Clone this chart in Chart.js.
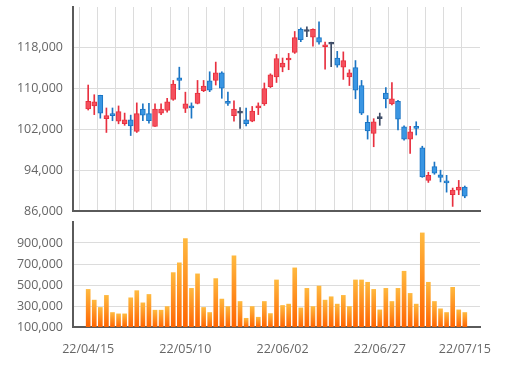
<!DOCTYPE html>
<html>
<head>
<meta charset="utf-8">
<script src="https://cdn.jsdelivr.net/npm/chart.js@4.4.1/dist/chart.umd.min.js"></script>
<style>
  html, body { margin: 0; padding: 0; background: #fff; }
  #wrap { position: relative; width: 512px; height: 370px; overflow: hidden; }
  .box { position: absolute; left: 0; width: 512px; }
  #priceBox { top: 0; height: 220px; }
  #volBox { top: 215px; height: 155px; }
</style>
</head>
<body>
<div id="wrap">
  <div class="box" id="priceBox"><canvas id="priceChart"></canvas></div>
  <div class="box" id="volBox"><canvas id="volChart"></canvas></div>
</div>
<script>
// trading days (yy/mm/dd)
const dates = [
  '22/04/15','22/04/18','22/04/19','22/04/20','22/04/21','22/04/22','22/04/25','22/04/26','22/04/27','22/04/28','22/04/29',
  '22/05/02','22/05/03','22/05/04','22/05/06','22/05/09','22/05/10','22/05/11','22/05/12','22/05/13','22/05/16','22/05/17',
  '22/05/18','22/05/19','22/05/20','22/05/23','22/05/24','22/05/25','22/05/26','22/05/27','22/05/30','22/05/31',
  '22/06/02','22/06/03','22/06/07','22/06/08','22/06/09','22/06/10','22/06/13','22/06/14','22/06/15','22/06/16',
  '22/06/17','22/06/20','22/06/21','22/06/22','22/06/23','22/06/24','22/06/27','22/06/28','22/06/29','22/06/30',
  '22/07/01','22/07/04','22/07/05','22/07/06','22/07/07','22/07/08','22/07/11','22/07/12','22/07/13','22/07/14','22/07/15'
];
const tickDates = ['22/04/15', '22/05/10', '22/06/02', '22/06/27', '22/07/15'];

const opens = [
  106000, 106600, 108700, 104100, 105100, 103600, 103100, 103900, 101600, 106000, 105100,
  102600, 105200, 105700, 107900, 112100, 106100, 106600, 107100, 109600, 111500, 111600,
  113100, 107500, 104700, 105200, 103900, 103600, 106200, 107000, 110400, 112300,
  114200, 115600, 117100, 121600, 121200, 120100, 120000, 118200, 118700, 116000,
  114200, 112300, 114100, 110600, 103400, 101200, 104100, 109100, 107000, 107500,
  102500, 100100, 102500, 98400, 92000, 94700, 93100, 91700, 89200, 90100, 90700
];
const highs = [
  110700, 108800, 108700, 106200, 106200, 106600, 105200, 104800, 107200, 107000, 107100,
  107000, 107000, 108100, 111600, 114200, 109300, 107200, 111600, 111600, 113300, 115200,
  113300, 109300, 107600, 106300, 106200, 106500, 107200, 111100, 112900, 116700,
  116000, 116900, 121200, 121900, 122100, 121700, 123100, 119100, 119100, 117300,
  117200, 113700, 115500, 111600, 104700, 104100, 105200, 110200, 111200, 107700,
  102700, 102600, 103500, 98700, 93600, 95600, 94000, 93000, 90500, 92000, 90900
];
const lows = [
  105800, 104900, 104200, 101400, 103700, 103100, 102800, 100800, 101400, 103700, 103200,
  102600, 104900, 105400, 107700, 109800, 105300, 104200, 107000, 109400, 109400, 110700,
  108100, 106700, 103600, 102200, 102700, 103500, 104900, 106700, 110200, 111200,
  113300, 113700, 116900, 119200, 120200, 118300, 118700, 113800, 114300, 114200,
  111800, 110600, 108000, 104900, 100100, 98600, 102800, 106200, 106800, 101900,
  99900, 97300, 100900, 92600, 91600, 93200, 91700, 89700, 86900, 89200, 88600
];
const closes = [
  107500, 107400, 105200, 104700, 104700, 105500, 103900, 102700, 105100, 104800, 103700,
  106000, 106000, 107400, 110900, 111600, 107000, 106200, 109100, 110500, 109700, 113100,
  110100, 107100, 106000, 105200, 103100, 105600, 106600, 110000, 112700, 115900,
  115000, 116000, 120000, 119600, 121200, 121600, 119100, 118500, 118700, 114600,
  115500, 113100, 109700, 105200, 101700, 103500, 104100, 108000, 108000, 104000,
  100100, 101500, 102200, 92700, 93000, 93400, 92600, 91500, 90100, 90700, 88900
];
const volumes = [
  458000, 356000, 286000, 401000, 238000, 225000, 225000, 378000, 446000, 330000, 410000,
  260000, 260000, 295000, 618000, 711000, 942000, 468000, 606000, 286000, 238000, 561000,
  366000, 295000, 778000, 343000, 183000, 295000, 193000, 343000, 228000, 548000,
  305000, 318000, 663000, 282000, 468000, 295000, 490000, 356000, 388000, 318000,
  401000, 295000, 548000, 548000, 526000, 458000, 263000, 468000, 343000, 468000,
  631000, 420000, 318000, 996000, 526000, 343000, 273000, 238000, 478000, 263000, 238000
];
const priceTicks = [86000, 94000, 102000, 110000, 118000];
const volumeTicks = [100000, 300000, 500000, 700000, 900000];

// styles
const textColor = '#666666';
const gridColor = '#dcdcdc';
const axisColor = '#5a5a5a';
const tickFont = { family: "'Open Sans', sans-serif", size: 12.5 };
const upFill = '#f5505d', upEdge = '#e8303f';
const downFill = '#3a96e3', downEdge = '#1b75c4';
const flatEdge = '#3c4b66';

const xMin = -2.5, xMax = dates.length + 1.5;
const gridIdx = [];
for (let i = 0; i < dates.length; i += 3) gridIdx.push(i);

const fills = dates.map((d, i) => closes[i] > opens[i] ? upFill : closes[i] < opens[i] ? downFill : flatEdge);
const edges = dates.map((d, i) => closes[i] > opens[i] ? upEdge : closes[i] < opens[i] ? downEdge : flatEdge);

const fmt = v => Number(v).toLocaleString('en-US');

// keep the plot area where the layout puts it (no extra room for edge labels)
function fixY(width) {
  return s => { s.width = width; s.paddingTop = 0; s.paddingBottom = 0; };
}

// 1. Candles
new Chart(document.getElementById('priceChart'), {
  type: 'bar',
  data: {
    datasets: [{
      label: 'body',
      data: dates.map((d, i) => ({ x: i, y: [opens[i], closes[i]] })),
      backgroundColor: fills,
      borderColor: edges,
      borderWidth: 1,
      borderSkipped: false,
      barThickness: 5,
      minBarLength: 2,
      grouped: false,
      order: 0
    }, {
      label: 'wick',
      data: dates.map((d, i) => ({ x: i, y: [lows[i], highs[i]] })),
      backgroundColor: edges,
      borderWidth: 0,
      barThickness: 1,
      grouped: false,
      order: 1
    }]
  },
  options: {
    responsive: true,
    maintainAspectRatio: false,
    animation: false,
    layout: { padding: { top: 7, right: 32, left: 0, bottom: 0 } },
    plugins: { legend: { display: false }, tooltip: { enabled: false } },
    scales: {
      x: {
        type: 'linear', min: xMin, max: xMax, offset: false,
        afterBuildTicks: s => { s.ticks = gridIdx.map(v => ({ value: v })); },
        afterFit: s => { s.height = 9; s.paddingLeft = 0; s.paddingRight = 0; },
        ticks: { display: false },
        grid: { color: gridColor, drawTicks: false },
        border: { color: axisColor, width: 2 }
      },
      y: {
        min: 86000, max: 126000,
        afterBuildTicks: s => { s.ticks = priceTicks.map(v => ({ value: v })); },
        afterFit: fixY(73),
        ticks: { color: textColor, font: tickFont, padding: 10, callback: fmt },
        grid: { color: gridColor, drawTicks: false },
        border: { color: axisColor, width: 2 }
      }
    }
  }
});

// 2. Volume
new Chart(document.getElementById('volChart'), {
  type: 'bar',
  data: {
    datasets: [{
      label: 'volume',
      data: dates.map((d, i) => ({ x: i, y: volumes[i] })),
      backgroundColor: ctx => {
        const chart = ctx.chart;
        const area = chart.chartArea;
        if (!area || !ctx.parsed) return '#ff8a1a';
        const top = chart.scales.y.getPixelForValue(ctx.parsed.y);
        const g = chart.ctx.createLinearGradient(0, top, 0, area.bottom);
        g.addColorStop(0, '#ffb93f');
        g.addColorStop(1, '#ff6400');
        return g;
      },
      borderWidth: 0,
      barThickness: 4
    }]
  },
  options: {
    responsive: true,
    maintainAspectRatio: false,
    animation: false,
    layout: { padding: { top: 7, right: 32, left: 0, bottom: 0 } },
    plugins: { legend: { display: false }, tooltip: { enabled: false } },
    scales: {
      x: {
        type: 'linear', min: xMin, max: xMax, offset: false,
        afterBuildTicks: s => { s.ticks = tickDates.map(d => ({ value: dates.indexOf(d) })); },
        afterFit: s => { s.height = 43; s.paddingLeft = 0; s.paddingRight = 0; },
        ticks: { color: textColor, font: tickFont, padding: 15, autoSkip: false, maxRotation: 0,
                 callback: v => dates[v] },
        grid: { display: false, drawTicks: false },
        border: { color: axisColor, width: 2 }
      },
      y: {
        min: 100000, max: 1100000,
        afterBuildTicks: s => { s.ticks = volumeTicks.map(v => ({ value: v })); },
        afterFit: fixY(73),
        ticks: { color: textColor, font: tickFont, padding: 10, callback: fmt },
        grid: { color: gridColor, drawTicks: false },
        border: { color: axisColor, width: 2 }
      }
    }
  }
});
</script>
</body>
</html>
